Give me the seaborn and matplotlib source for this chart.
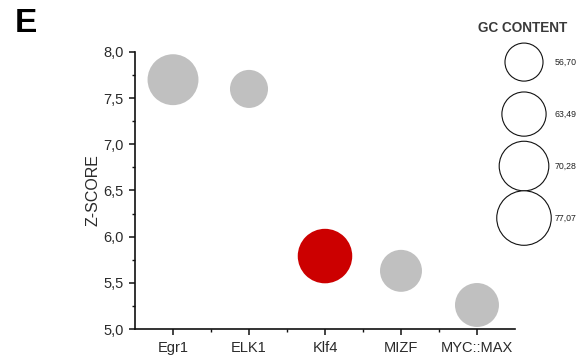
import matplotlib
matplotlib.use("Agg")
import matplotlib.pyplot as plt
from matplotlib.ticker import FixedLocator, MultipleLocator, FuncFormatter
import seaborn as sns
import pandas as pd

# Transcription factor motifs, enrichment z-scores and GC content (%)
factors = ["Egr1", "ELK1", "Klf4", "MIZF", "MYC::MAX"]
z_scores = [7.70, 7.60, 5.79, 5.63, 5.26]
gc_content = [72.0, 56.70, 77.07, 60.9, 63.2]
highlight = ["other", "other", "selected", "other", "other"]

# Bubble size legend entries
legend_gc = [56.70, 63.49, 70.28, 77.07]
legend_labels = ["56,70", "63,49", "70,28", "77,07"]

y_ticks = [5.0, 5.5, 6.0, 6.5, 7.0, 7.5, 8.0]

palette = {"other": "#c0c0c0", "selected": "#cc0000"}
size_range = (750, 1540)
size_norm = (56.70, 77.07)

sns.set_style("ticks")
plt.rcParams["font.family"] = ["Liberation Sans", "DejaVu Sans"]

df = pd.DataFrame({"factor": factors, "z": z_scores, "gc": gc_content,
                   "group": highlight})

fig = plt.figure(figsize=(5.86, 3.61), dpi=100)
ax = fig.add_axes([0.2304, 0.0886, 0.6484, 0.7674])

sns.scatterplot(data=df, x="factor", y="z", hue="group", palette=palette,
                size="gc", sizes=size_range, size_norm=size_norm,
                linewidth=0, legend=False, ax=ax, zorder=3)

ax.set_xlim(-0.5, 4.5)
ax.set_ylim(5.0, 8.0)
ax.yaxis.set_major_locator(FixedLocator(y_ticks))
ax.yaxis.set_minor_locator(MultipleLocator(0.25))
ax.yaxis.set_major_formatter(FuncFormatter(lambda v, p: f"{v:.1f}".replace(".", ",")))
ax.xaxis.set_minor_locator(FixedLocator([0.5, 1.5, 2.5, 3.5]))

for side in ("top", "right"):
    ax.spines[side].set_visible(False)
for side in ("left", "bottom"):
    ax.spines[side].set_linewidth(1.2)
    ax.spines[side].set_color("#111111")

ax.tick_params(axis="both", which="major", direction="out", length=4.3,
               width=1.1, color="#111111", labelsize=10.5,
               labelcolor="#2a2a2a", pad=4)
ax.tick_params(axis="both", which="minor", direction="out", length=2.5,
               width=1.0, color="#111111")
ax.set_xlabel("")
ax.set_ylabel("Z-SCORE", fontsize=11.5, color="#2a2a2a", labelpad=2)

# Size legend drawn with the same size mapping
lax = fig.add_axes([0.8089, 0.324, 0.1706, 0.576])
leg_df = pd.DataFrame({"x": [0.0] * len(legend_gc),
                       "row": list(range(len(legend_gc))),
                       "gc": legend_gc})
sns.scatterplot(data=leg_df, x="x", y="row", size="gc", sizes=size_range,
                size_norm=size_norm, color="white", edgecolor="#111111",
                linewidth=0.8, legend=False, ax=lax)
for coll in lax.collections:
    coll.set_clip_on(False)
lax.set_xlim(-1, 1)
lax.set_ylim(len(legend_gc) - 0.5, -0.5)
lax.axis("off")
for i, lab in enumerate(legend_labels):
    lax.text(0.62, i, lab, ha="left", va="center", fontsize=6.3,
             color="#222222")

fig.text(523 / 586, 1 - 28 / 361, "GC CONTENT", ha="center", va="center",
         fontsize=9.8, fontweight="bold", color="#3a3a3a")
fig.text(15 / 586, 1 - 23 / 361, "E", ha="left", va="center",
         fontsize=24, fontweight="bold", color="black")

fig.savefig("out.png", dpi=100)
